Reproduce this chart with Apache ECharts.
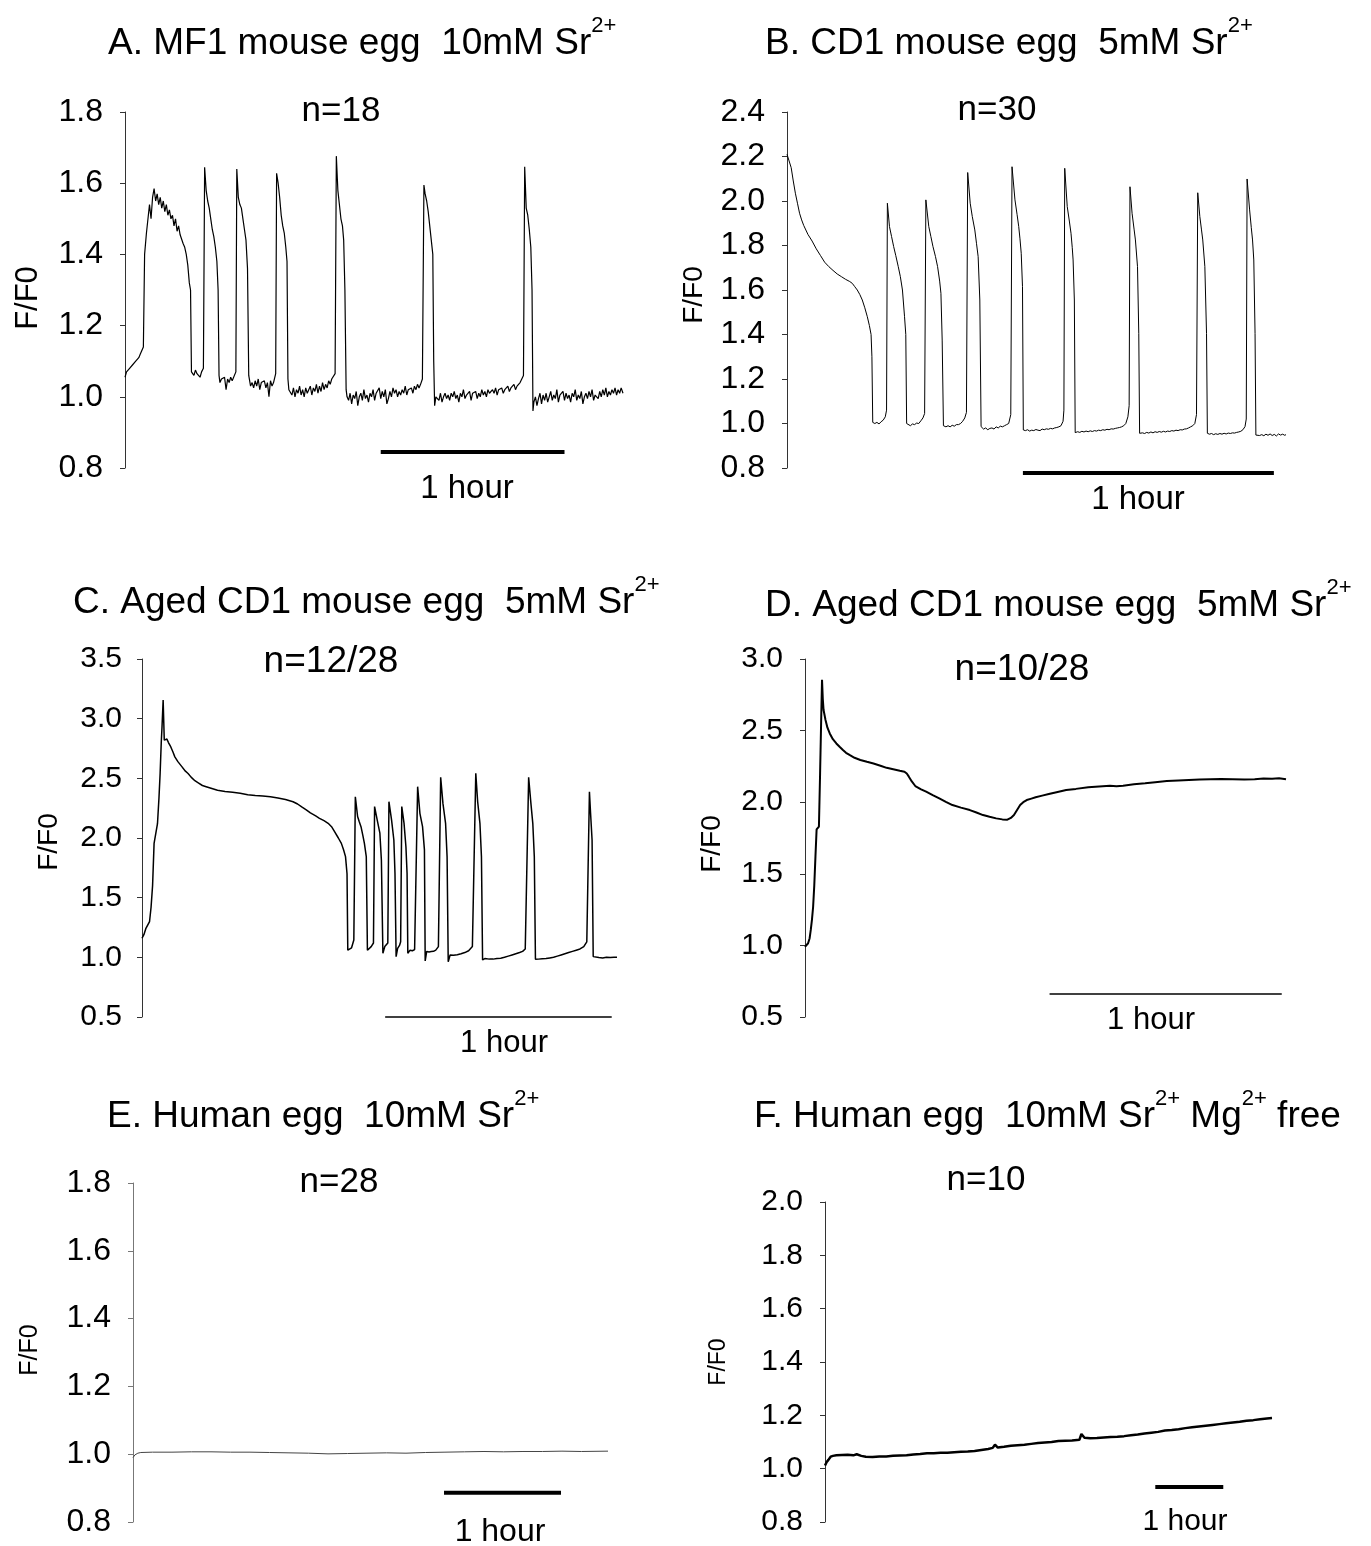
<!DOCTYPE html>
<html><head><meta charset="utf-8">
<script src="https://cdn.jsdelivr.net/npm/echarts@6/dist/echarts.min.js"></script>
<style>html,body{margin:0;padding:0;background:#fff}#c{width:1371px;height:1546px}</style>
</head><body><div id="c"></div><script>
// ---------- DATA (time in minutes, value F/F0) ----------
const aTrace = [[0,1.055],[0.5,1.07],[1,1.065],[1.5,1.08],[2,1.075],[2.5,1.09],[3,1.085],[3.5,1.1],[4,1.095],[4.5,1.11],[5,1.12],[5.5,1.115],[6,1.14],
[6.4,1.40],[7,1.46],[7.5,1.5],[8,1.54],[8.5,1.5],[9,1.56],[9.5,1.585],[10,1.55],[10.5,1.57],[11,1.54],[11.5,1.56],[12,1.53],[12.5,1.55],[13,1.52],[13.5,1.54],[14,1.51],[14.5,1.525],[15,1.5],[15.5,1.51],[16,1.48],[16.5,1.5],[17,1.465],[17.5,1.48],[18,1.455],[18.5,1.45],[19,1.43],[19.5,1.42],[20,1.4],[20.5,1.37],[21,1.32],[21.4,1.3],[21.7,1.07],
[22.5,1.06],[23,1.075],[23.5,1.065],[24,1.07],[24.5,1.055],[25,1.07],[25.6,1.08],
[26,1.645],[26.5,1.58],[27,1.55],[27.5,1.53],[28,1.5],[28.5,1.47],[29,1.45],[29.5,1.42],[30,1.38],[30.4,1.3],[30.7,1.06],[31,1.04],
[31.5,1.05],[32,1.045],[32.5,1.055],[33,1.02],[33.5,1.05],[34,1.04],[34.5,1.055],[35,1.045],[35.5,1.05],[36.2,1.07],
[36.5,1.64],[37,1.56],[37.5,1.54],[38,1.53],[38.5,1.5],[39,1.47],[39.5,1.44],[40,1.36],[40.4,1.06],[41,1.03],
[41.5,1.04],[42,1.025],[42.5,1.045],[43,1.03],[43.5,1.05],[44,1.02],[44.5,1.04],[45,1.035],[45.5,1.045],[46,1.025],[46.5,1.04],[47,1.0],[47.5,1.045],[48,1.03],[48.5,1.04],[49.2,1.065],
[49.5,1.628],[50,1.6],[50.5,1.56],[51,1.51],[51.5,1.48],[52,1.46],[52.5,1.42],[52.9,1.38],[53.2,1.05],[53.5,1.02],
[54,1.02],[54.5,1.005],[55,1.025],[55.5,1.0],[56,1.02],[56.5,1.01],[57,1.03],[57.5,1.005],[58,1.02],[58.5,1.0],[59,1.025],[59.5,1.01],[60,1.02],[60.5,1.03],[61,1.005],[61.5,1.025],[62,1.015],[62.5,1.035],[63,1.01],[63.5,1.03],[64,1.015],[64.5,1.04],[65,1.02],[65.5,1.035],[66,1.025],[66.5,1.045],[67,1.035],[67.5,1.05],[68,1.045],[68.6,1.065],
[69,1.676],[69.5,1.58],[70,1.54],[70.5,1.5],[71,1.48],[71.4,1.44],[71.8,1.3],[72.2,1.02],
[72.5,1.0],[73,0.99],[73.5,1.01],[74,0.98],[74.5,1.005],[75,0.995],[75.5,1.015],[76,0.975],[76.5,1.0],[77,1.01],[77.5,0.99],[78,1.02],[78.5,0.995],[79,1.005],[79.5,0.985],[80,1.01],[80.5,1.0],[81,1.02],[81.5,0.99],[82,1.01],[82.5,1.005],[83,1.025],[83.5,0.995],[84,1.015],[84.5,1.0],[85,1.02],[85.5,0.98],[86,0.995],[86.5,1.015],[87,1.0],[87.5,1.025],[88,1.01],[88.5,1.02],[89,1.0],[89.5,1.015],[90,1.005],[90.5,1.02],[91,1.01],[91.5,1.03],[92,1.005],[92.5,1.02],[93,1.015],[93.5,1.025],[94,1.01],[94.5,1.03],[95,1.02],[95.5,1.035],[96,1.025],[96.5,1.035],[97.1,1.05],
[97.6,1.595],[98,1.57],[98.5,1.55],[99,1.52],[99.5,1.48],[100,1.44],[100.5,1.4],[100.8,1.1],[101.1,0.975],
[101.5,1.0],[102,1.005],[102.5,0.99],[103,1.01],[103.5,0.985],[104,1.0],[104.5,1.01],[105,0.995],[105.5,1.005],[106,0.99],[106.5,1.01],[107,1.0],[107.5,1.015],[108,0.995],[108.5,1.005],[109,0.985],[109.5,1.01],[110,1.0],[110.5,1.02],[111,0.995],[111.5,1.005],[112,1.0],[112.5,1.015],[113,0.99],[113.5,1.01],[114,1.005],[114.5,1.015],[115,0.995],[115.5,1.01],[116,1.0],[116.5,1.02],[117,1.005],[117.5,1.015],[118,1.0],[118.5,1.02],[119,1.01],[119.5,1.005],[120,1.02],[120.5,1.01],[121,1.025],[121.5,1.005],[122,1.02],[122.5,1.015],[123,1.025],[123.5,1.01],[124,1.02],[124.5,1.015],[125,1.03],[125.5,1.015],[126,1.025],[126.5,1.02],[127,1.035],[127.5,1.02],[128,1.03],[128.5,1.025],[129,1.04],[129.5,1.035],[130.1,1.06],
[130.5,1.646],[131,1.53],[131.5,1.51],[132,1.47],[132.5,1.42],[132.9,1.3],[133.2,0.96],
[133.5,0.985],[134,1.0],[134.5,0.975],[135,0.995],[135.5,1.01],[136,0.98],[136.5,1.005],[137,0.99],[137.5,1.01],[138,0.985],[138.5,1.0],[139,1.015],[139.5,0.99],[140,1.005],[140.5,0.995],[141,1.02],[141.5,0.985],[142,1.005],[142.5,1.0],[143,1.015],[143.5,0.99],[144,1.01],[144.5,0.995],[145,1.005],[145.5,0.985],[146,1.01],[146.5,1.0],[147,1.02],[147.5,0.99],[148,1.005],[148.5,0.995],[149,1.015],[149.5,0.98],[150,1.0],[150.5,1.01],[151,0.995],[151.5,1.015],[152,1.0],[152.5,1.02],[153,0.99],[153.5,1.005],[154,1.01],[154.5,0.995],[155,1.015],[155.5,1.0],[156,1.02],[156.5,1.005],[157,1.025],[157.5,1.0],[158,1.015],[158.5,1.005],[159,1.02],[159.5,1.01],[160,1.025],[160.5,1.005],[161,1.02],[161.5,1.01],[162,1.025],[162.6,1.01]];

const bTrace = [[0,2.21],[0.5,2.18],[1,2.15],[1.5,2.09],[2,2.035],[2.5,1.99],[3,1.945],[3.5,1.915],[4,1.89],[5,1.85],[6,1.82],[7,1.785],[8,1.755],[9,1.725],[10,1.705],[11,1.688],[12,1.672],[13,1.66],[14,1.648],[15,1.638],[15.6,1.63],[16.2,1.615],[16.8,1.6],[17.4,1.58],[18,1.555],[18.6,1.52],[19.2,1.48],[19.7,1.44],[20.1,1.4],[20.3,1.3],[20.5,1.005],
[21,1.0],[21.5,1.005],[22,0.998],[22.5,1.008],[23,1.015],[23.5,1.03],[23.8,1.06],
[24.0,1.99],[24.5,1.885],[25,1.84],[25.5,1.795],[26,1.755],[26.6,1.705],[27.1,1.66],[27.6,1.6],[28.1,1.48],[28.4,1.4],[28.6,1.0],
[29,0.993],[29.5,0.99],[30,0.998],[30.5,0.995],[31,1.002],[31.5,1.0],[32,1.012],[32.5,1.025],[32.9,1.045],
[33.2,2.005],[33.9,1.885],[34.4,1.84],[34.9,1.795],[35.5,1.75],[36,1.705],[36.5,1.64],[36.8,1.585],[37.1,1.375],[37.4,0.99],
[38,0.985],[38.5,0.99],[39,0.985],[39.5,0.992],[40,0.988],[40.5,0.995],[41,0.995],[41.5,1.0],[42,1.01],[42.5,1.025],[42.9,1.05],
[43.2,2.128],[43.8,1.99],[44.3,1.93],[44.9,1.87],[45.3,1.81],[45.7,1.75],[46.1,1.555],[46.4,0.986],
[47,0.975],[47.5,0.98],[48,0.972],[48.5,0.978],[49,0.98],[49.5,0.975],[50,0.985],[50.5,0.98],[51,0.988],[51.5,0.985],[52,0.99],[52.5,0.995],[53,1.0],[53.5,1.04],
[53.8,2.154],[54.5,2.005],[55,1.94],[55.4,1.885],[55.7,1.83],[56,1.765],[56.3,1.615],[56.5,0.971],
[57,0.968],[57.5,0.972],[58,0.966],[58.5,0.97],[59,0.968],[59.5,0.973],[60,0.97],[60.5,0.968],[61,0.975],[61.5,0.972],[62,0.976],[62.5,0.974],[63,0.978],[63.5,0.976],[64,0.98],[64.5,0.982],[65,0.985],[65.5,0.99],[66,1.01],[66.2,1.06],
[66.4,2.147],[67,1.975],[67.5,1.91],[67.9,1.855],[68.2,1.79],[68.4,1.735],[68.7,1.555],[68.9,0.959],
[69.5,0.963],[70,0.96],[70.5,0.965],[71,0.962],[71.5,0.966],[72,0.963],[72.5,0.967],[73,0.964],[73.5,0.968],[74,0.966],[74.5,0.97],[75,0.968],[75.5,0.972],[76,0.97],[76.5,0.974],[77,0.972],[77.5,0.976],[78,0.975],[78.5,0.978],[79,0.98],[79.5,0.982],[80,0.985],[80.5,0.99],[81,1.0],[81.5,1.03],[81.8,1.08],
[82.0,2.064],[82.5,1.945],[83,1.87],[83.3,1.825],[83.8,1.705],[84.1,1.405],[84.3,0.956],
[85,0.958],[85.5,0.955],[86,0.96],[86.5,0.957],[87,0.962],[87.5,0.958],[88,0.963],[88.5,0.96],[89,0.964],[89.5,0.961],[90,0.965],[90.5,0.962],[91,0.966],[91.5,0.964],[92,0.968],[92.5,0.966],[93,0.97],[93.5,0.968],[94,0.972],[94.5,0.971],[95,0.975],[95.5,0.976],[96,0.98],[96.5,0.985],[97,0.99],[97.5,1.0],[97.9,1.04],
[98.2,2.037],[98.7,1.93],[99.1,1.87],[99.4,1.825],[99.9,1.705],[100.3,1.405],[100.5,0.956],
[101,0.952],[101.5,0.955],[102,0.95],[102.5,0.954],[103,0.951],[103.5,0.955],[104,0.952],[104.5,0.956],[105,0.953],[105.5,0.957],[106,0.955],[106.5,0.958],[107,0.957],[107.5,0.96],[108,0.962],[108.5,0.965],[109,0.972],[109.5,0.986],[109.8,1.02],
[110.0,2.099],[110.6,1.96],[111,1.88],[111.3,1.825],[111.6,1.735],[111.9,1.405],[112.1,0.948],
[112.5,0.952],[113,0.946],[113.5,0.95],[114,0.945],[114.5,0.952],[115,0.947],[115.5,0.953],[116,0.946],[116.5,0.951],[117,0.944],[117.5,0.953],[118,0.948],[118.5,0.952],[119,0.947],[119.3,0.95]];

const cTrace = [[0,1.16],[0.5,1.19],[1,1.24],[1.5,1.27],[2,1.3],[2.4,1.42],[2.8,1.6],[3.2,1.955],[3.6,1.97],[4.1,2.12],[4.5,2.34],[4.8,2.54],[5.1,2.8],[5.3,2.93],[5.6,3.157],[5.9,2.82],[6.2,2.83],[6.6,2.83],[7,2.8],[7.6,2.765],[8.2,2.72],[8.7,2.68],[9.5,2.64],[10.5,2.6],[11.5,2.56],[12.2,2.54],[13,2.51],[14,2.48],[15,2.46],[16,2.44],[17,2.43],[18.5,2.415],[20,2.4],[22,2.39],[24,2.383],[26,2.375],[28,2.362],[30,2.356],[32,2.352],[34,2.345],[36,2.335],[38,2.322],[40,2.304],[41.2,2.285],[42.3,2.26],[43.5,2.235],[44.6,2.21],[46,2.185],[47,2.165],[48.2,2.145],[49.3,2.123],[50.2,2.095],[51,2.053],[52,2.0],[52.8,1.955],[53.4,1.9],[53.9,1.844],[54.3,1.7],[54.5,1.06],
[55,1.075],[55.5,1.08],[56.1,1.145],
[56.5,2.346],[57.1,2.18],[57.5,2.14],[58,2.095],[58.5,2.02],[58.9,1.955],[59.4,1.844],[59.7,1.06],
[60.2,1.075],[60.7,1.09],[61.3,1.12],
[61.6,2.263],[62.3,2.15],[63,2.04],[63.4,1.816],[63.8,1.034],
[64.3,1.09],[64.8,1.1],[65.1,1.12],
[65.4,2.304],[66.1,2.15],[66.7,1.983],[67,1.704],[67.3,1.006],
[67.7,1.075],[68.2,1.1],[68.5,1.13],
[68.8,2.263],[69.4,2.123],[69.9,1.927],[70.2,1.704],[70.4,1.034],
[71,1.06],[71.6,1.055],[72.2,1.065],[72.7,1.075],
[73,2.43],[73.6,2.207],[74.3,2.095],[74.8,1.9],[75,0.97],[75.4,1.05],
[76,1.045],[76.6,1.048],[77.2,1.05],[77.8,1.06],[78.5,1.09],
[79.1,2.508],[79.7,2.29],[80.4,2.123],[80.8,1.844],[81.1,0.963],
[81.6,1.02],[82.5,1.018],[83.5,1.022],[84.5,1.03],[85.5,1.04],[86.5,1.055],[87.5,1.09],
[88.4,2.542],[88.9,2.304],[89.5,2.123],[89.9,1.844],[90.2,0.978],
[90.8,0.99],[92,0.985],[93,0.985],[94,0.99],[95,0.993],[96,1.0],[97,1.01],[98,1.02],[99,1.03],[100,1.04],[100.8,1.05],[101.5,1.07],
[102.4,2.508],[103,2.29],[103.5,2.123],[103.9,1.844],[104.2,0.983],
[105,0.985],[106,0.988],[107,0.99],[108,0.995],[109,1.0],[110,1.01],[111,1.02],[112,1.03],[113,1.04],[114,1.05],[115,1.06],[116,1.07],[117,1.09],[117.8,1.13],
[118.5,2.388],[118.8,2.207],[119.2,1.983],[119.5,1.006],
[120,0.995],[121,0.998],[122,0.995],[123,1.0],[124,0.998],[125,1.0],[125.8,1.0]];

const dTrace = [[0,0.99],[0.4,1.0],[0.8,1.015],[1.2,1.05],[1.5,1.11],[1.8,1.18],[2.1,1.27],[2.4,1.42],[2.7,1.62],[3.0,1.81],[3.3,1.82],[3.6,1.83],[3.9,2.2],[4.2,2.6],[4.4,2.855],[4.6,2.72],[4.8,2.644],[5.3,2.574],[5.8,2.52],[6.4,2.48],[7.2,2.44],[8.1,2.41],[9,2.385],[9.8,2.364],[10.6,2.345],[11.5,2.33],[12.8,2.31],[14.3,2.295],[16,2.282],[17.7,2.27],[19.5,2.255],[21.1,2.24],[22.8,2.23],[24.5,2.22],[25.7,2.213],[26.3,2.2],[26.8,2.18],[27.6,2.145],[28.5,2.113],[30,2.09],[31.3,2.074],[33,2.05],[34.7,2.027],[36.4,2.003],[38.1,1.98],[40.3,1.962],[42.6,1.945],[44.3,1.928],[46,1.91],[47.7,1.898],[49.4,1.887],[51,1.88],[52.3,1.878],[53.2,1.89],[54,1.91],[54.8,1.945],[55.6,1.98],[56.4,2.0],[57.3,2.015],[58.5,2.025],[59.6,2.034],[61.3,2.046],[63,2.057],[65,2.07],[67.5,2.085],[70,2.093],[73.2,2.104],[76,2.11],[78.8,2.115],[80.5,2.112],[82.2,2.115],[85,2.125],[87.9,2.132],[90.5,2.14],[93.5,2.148],[96.5,2.152],[99.2,2.155],[102,2.158],[104.8,2.16],[107.5,2.162],[110.5,2.16],[113.5,2.158],[116.2,2.16],[118.5,2.165],[120.7,2.164],[122.5,2.168],[124.3,2.16]];

const eTrace = [[0,0.99],[1,0.998],[2.5,1.003],[4,1.005],[10,1.006],[20,1.006],[30,1.007],[40,1.007],[50,1.006],[60,1.006],[70,1.005],[80,1.004],[90,1.003],[100,1.001],[110,1.002],[120,1.003],[130,1.004],[140,1.003],[150,1.005],[160,1.006],[170,1.007],[180,1.008],[190,1.007],[200,1.008],[210,1.008],[220,1.009],[230,1.008],[243.6,1.009]];

const fTrace = [[0,1.012],[1.5,1.025],[3,1.033],[5,1.045],[7,1.048],[10,1.05],[15,1.051],[20,1.052],[25,1.05],[28,1.054],[32,1.048],[36,1.045],[42,1.044],[48,1.046],[54,1.046],[60,1.048],[66,1.049],[72,1.05],[78,1.053],[84,1.055],[90,1.058],[96,1.058],[102,1.06],[108,1.06],[114,1.062],[120,1.063],[126,1.064],[132,1.066],[138,1.07],[144,1.074],[148,1.078],[150,1.09],[152.5,1.079],[158,1.082],[164,1.086],[170,1.088],[176,1.09],[182,1.093],[188,1.096],[194,1.098],[200,1.1],[206,1.104],[212,1.105],[218,1.106],[224.5,1.108],[226.3,1.13],[229,1.116],[234,1.114],[240,1.115],[246,1.117],[252,1.119],[258,1.12],[264,1.122],[270,1.125],[276,1.128],[282,1.132],[288,1.135],[294,1.138],[300,1.143],[306,1.145],[312,1.148],[318,1.152],[324,1.155],[330,1.158],[336,1.161],[342,1.164],[348,1.167],[354,1.17],[360,1.173],[366,1.176],[372,1.18],[378,1.182],[384,1.185],[390,1.188],[394.5,1.19]];

// 1-hour scale bars [start, end] minutes and the F/F0 level they sit at
const aBar = [[83.5,0.845],[143.5,0.845]];
const bBar = [[56.4,0.778],[116.4,0.778]];
const cBar = [[64.4,0.5],[124.4,0.5]];
const dBar = [[63.2,0.66],[123.2,0.66]];
const eBar = [[159.5,0.886],[219.5,0.886]];
const fBar = [[291.5,0.931],[351.5,0.931]];

// y-axis ranges [min, max, interval] and x (time) extents in minutes
const aY = [0.8, 1.8, 0.2], bY = [0.8, 2.4, 0.2], cY = [0.5, 3.5, 0.5];
const dY = [0.5, 3.0, 0.5], eY = [0.8, 1.8, 0.2], fY = [0.8, 2.0, 0.2];
const xEnd = [162.6, 119.3, 125.8, 124.3, 243.6, 394.5];

const titles = [
  ['A. MF1 mouse egg  10mM Sr', '2+', ''],
  ['B. CD1 mouse egg  5mM Sr', '2+', ''],
  ['C. Aged CD1 mouse egg  5mM Sr', '2+', ''],
  ['D. Aged CD1 mouse egg  5mM Sr', '2+', ''],
  ['E. Human egg  10mM Sr', '2+', ''],
  ['F. Human egg  10mM Sr', '2+', ' Mg']
];
const nLabels = ['n=18', 'n=30', 'n=12/28', 'n=10/28', 'n=28', 'n=10'];
const barLabel = '1 hour';
const yName = 'F/F0';

// ---------- LAYOUT ----------
const FONT = 'Liberation Sans, Arial, Helvetica, sans-serif';
const P = [
  {g:{left:125,top:112,width:498,height:356}, y:aY, tr:aTrace, bar:aBar, lw:1.2, lc:'#000', bw:4, tf:32, tm:22, title:[108,44], n:[341,111], nf:35, h:[467,489], hf:33, yn:[28,298], ynf:31, ax:'#333'},
  {g:{left:787,top:112,width:499,height:356}, y:bY, tr:bTrace, bar:bBar, lw:1, lc:'#000', bw:4, tf:32, tm:22, title:[765,44], n:[997,110], nf:35, h:[1138,500], hf:33, yn:[694,295], ynf:28, ax:'#333'},
  {g:{left:142,top:659,width:475,height:358}, y:cY, tr:cTrace, bar:cBar, lw:1.5, lc:'#000', bw:1.5, tf:30, tm:20, title:[73,603], n:[331,662], nf:37, h:[504,1043], hf:31, yn:[49,842], ynf:28, ax:'#333'},
  {g:{left:805,top:659,width:481,height:358}, y:dY, tr:dTrace, bar:dBar, lw:2, lc:'#000', bw:1.5, tf:30, tm:22, title:[765,606], n:[1022,670], nf:37, h:[1151,1020], hf:31, yn:[712,844], ynf:28, ax:'#333'},
  {g:{left:133,top:1183,width:475,height:339}, y:eY, tr:eTrace, bar:eBar, lw:1, lc:'#444', bw:4, tf:32, tm:22, title:[107,1117], n:[339,1182], nf:35, h:[500,1532], hf:32, yn:[30,1350], ynf:25, ax:'#777'},
  {g:{left:825,top:1202,width:447,height:320}, y:fY, tr:fTrace, bar:fBar, lw:2.5, lc:'#000', bw:4, tf:30, tm:22, title:[754,1117], n:[986,1180], nf:35, h:[1185,1522], hf:30, yn:[719,1362], ynf:23, ax:'#333'}
];

const grid = [], xAxis = [], yAxis = [], series = [], graphic = [];
P.forEach((p, i) => {
  grid.push(Object.assign({containLabel:false}, p.g));
  xAxis.push({type:'value', gridIndex:i, min:0, max:xEnd[i], show:false});
  yAxis.push({type:'value', gridIndex:i, min:p.y[0], max:p.y[1], interval:p.y[2],
    axisLine:{show:true, lineStyle:{color:p.ax, width:1}},
    axisTick:{show:true, length:5, lineStyle:{color:p.ax, width:1}},
    splitLine:{show:false},
    axisLabel:{fontSize:p.tf, color:'#000', fontFamily:FONT, margin:p.tm, formatter:v => v.toFixed(1)}});
  series.push({type:'line', xAxisIndex:i, yAxisIndex:i, data:p.tr, showSymbol:false, symbol:'none',
    lineStyle:{color:p.lc, width:p.lw}, silent:true, animation:false, sampling:null});
  series.push({type:'line', xAxisIndex:i, yAxisIndex:i, data:p.bar, showSymbol:false, symbol:'none', clip:false,
    lineStyle:{color:'#000', width:p.bw, cap:'butt'}, silent:true, animation:false});
  const t = titles[i];
  let txt = '{m|' + t[0] + '}{s|' + t[1] + '}';
  if (t[2]) txt += '{m|' + t[2] + '}{s|2+}{m| free}';
  graphic.push({type:'text', x:p.title[0], y:p.title[1], silent:true,
    style:{text:txt, textVerticalAlign:'middle', textAlign:'left',
      rich:{m:{fontSize:37, fontFamily:FONT, fill:'#000', lineHeight:58},
            s:{fontSize:22, fontFamily:FONT, fill:'#000', verticalAlign:'top', lineHeight:24}}}});
  graphic.push({type:'text', x:p.n[0], y:p.n[1], silent:true,
    style:{text:nLabels[i], fontSize:p.nf, fontFamily:FONT, fill:'#000', textAlign:'center', textVerticalAlign:'middle'}});
  graphic.push({type:'text', x:p.h[0], y:p.h[1], silent:true,
    style:{text:barLabel, fontSize:p.hf, fontFamily:FONT, fill:'#000', textAlign:'center', textVerticalAlign:'middle'}});
  graphic.push({type:'text', x:p.yn[0], y:p.yn[1], rotation:Math.PI/2, silent:true,
    style:{text:yName, fontSize:p.ynf, fontFamily:FONT, fill:'#000', textAlign:'center', textVerticalAlign:'middle'}});
});

const chart = echarts.init(document.getElementById('c'), null, {renderer:'canvas'});
chart.setOption({animation:false, backgroundColor:'#fff', grid, xAxis, yAxis, series, graphic});
</script></body></html>
